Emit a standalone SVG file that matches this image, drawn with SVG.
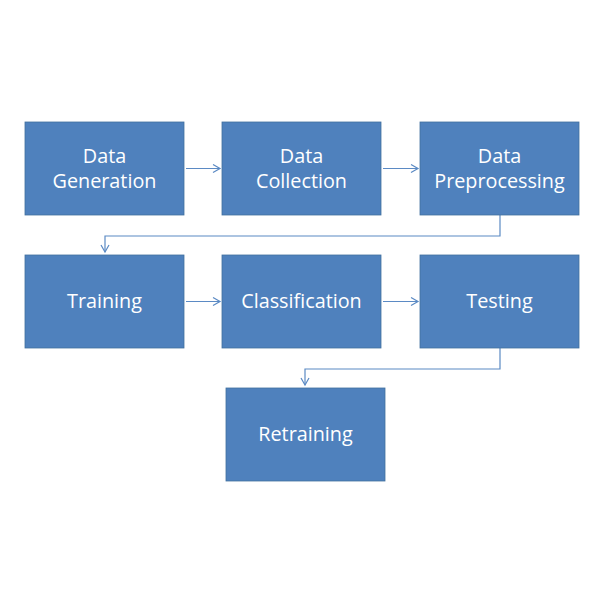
<svg xmlns="http://www.w3.org/2000/svg" width="600" height="600" viewBox="0 0 600 600">
<defs>
<style>
.box{fill:#4F81BD;stroke:#41709F;stroke-width:0.8}
.t{font-family:"Open Sans","Liberation Sans",sans-serif;font-size:19.8px;fill:#FFFFFF;text-anchor:middle}
.c{fill:none;stroke:#5B8AC4;stroke-width:1.2}
</style>
<marker id="ah" markerWidth="10" markerHeight="10" refX="8" refY="5" orient="auto" markerUnits="userSpaceOnUse">
<path d="M1,1 L8,5 L1,9" fill="none" stroke="#5B8AC4" stroke-width="1.2"/>
</marker>
</defs>
<rect width="600" height="600" fill="#FFFFFF"/>
<g id="connectors">
<line class="c" x1="186" y1="168.5" x2="220" y2="168.5" marker-end="url(#ah)"/>
<line class="c" x1="383" y1="168.5" x2="418" y2="168.5" marker-end="url(#ah)"/>
<polyline class="c" points="500,215 500,236 105,236 105,252" marker-end="url(#ah)"/>
<line class="c" x1="186" y1="301.5" x2="220" y2="301.5" marker-end="url(#ah)"/>
<line class="c" x1="383" y1="301.5" x2="418" y2="301.5" marker-end="url(#ah)"/>
<polyline class="c" points="500,348 500,369 305,369 305,385" marker-end="url(#ah)"/>
</g>
<g id="n1"><rect class="box" x="25" y="122" width="159" height="93"/><text class="t" x="104.5" y="163">Data</text><text class="t" x="104.5" y="188">Generation</text></g>
<g id="n2"><rect class="box" x="222" y="122" width="159" height="93"/><text class="t" x="301.5" y="163">Data</text><text class="t" x="301.5" y="188">Collection</text></g>
<g id="n3"><rect class="box" x="420" y="122" width="159" height="93"/><text class="t" x="499.5" y="163">Data</text><text class="t" x="499.5" y="188">Preprocessing</text></g>
<g id="n4"><rect class="box" x="25" y="255" width="159" height="93"/><text class="t" x="104.5" y="308">Training</text></g>
<g id="n5"><rect class="box" x="222" y="255" width="159" height="93"/><text class="t" x="301.5" y="308">Classification</text></g>
<g id="n6"><rect class="box" x="420" y="255" width="159" height="93"/><text class="t" x="499.5" y="308">Testing</text></g>
<g id="n7"><rect class="box" x="226" y="388" width="159" height="93"/><text class="t" x="305.5" y="441">Retraining</text></g>
</svg>
